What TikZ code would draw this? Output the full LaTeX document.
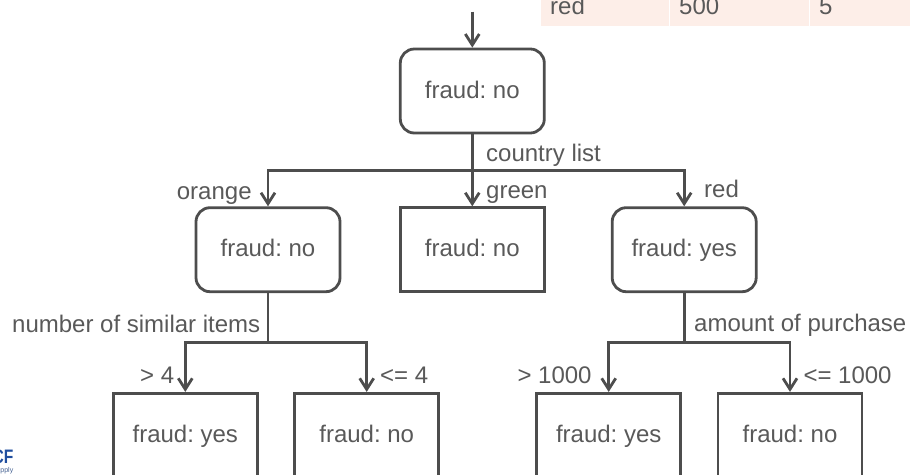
\documentclass[tikz,border=0pt]{standalone}
\usepackage{fontspec}
\setmainfont{Liberation Sans}
\usetikzlibrary{arrows.meta}
\definecolor{ink}{HTML}{4D4D4D}
\definecolor{txt}{HTML}{595959}
\definecolor{peach}{HTML}{FDEEE8}
\definecolor{logoblue}{HTML}{1F4E9E}
\tikzset{
  base/.style={draw=ink,line width=2.8pt,minimum width=144pt,minimum height=84pt,inner sep=0pt,
    text=txt,text height=14pt,text depth=0pt,font=\fontsize{24}{26}\selectfont\frenchspacing},
  sqbox/.style={base},
  rbox/.style={base,rounded corners=14pt},
  lbl/.style={text=txt,inner sep=0pt,anchor=base west,font=\fontsize{24}{26}\selectfont\frenchspacing},
  conn/.style={draw=ink,line width=2.8pt},
  arr/.style={conn,-{Straight Barb[length=11pt,width=14pt,line width=2.8pt]}}
}
\begin{document}
\begin{tikzpicture}[x=1pt,y=-1pt]
\useasboundingbox (0,0) rectangle (910,474);
\clip (0,0) rectangle (910,474);
% table strip
\fill[peach] (540.7,0) rectangle (668.6,25.7);
\fill[peach] (670,0) rectangle (808.6,25.7);
\fill[peach] (810,0) rectangle (910,25.7);
\node[lbl] (c1) at (550,14) {red};
\node[lbl] (c2) at (679,14) {500};
\node[lbl] (c3) at (819,14) {5};
% boxes
\node[rbox] (top) at (472.3,91) {fraud: no};
\node[rbox] (left) at (268,249.7) {fraud: no};
\node[sqbox] (mid) at (472.3,249.7) {fraud: no};
\node[rbox] (right) at (684.2,249.7) {fraud: yes};
\node[sqbox] (b1) at (185.3,435.3) {fraud: yes};
\node[sqbox] (b2) at (366.7,435.3) {fraud: no};
\node[sqbox] (b3) at (608.7,435.3) {fraud: yes};
\node[sqbox] (b4) at (790,435.3) {fraud: no};
% connectors
\coordinate (start) at (472.3,11.5);
\coordinate (j1) at (472.3,170.3);
\coordinate (j2) at (268,342.3);
\coordinate (j3) at (684.2,342.3);
\draw[arr] (start) -- (top.north);
\draw[conn] (top.south) -- (j1);
\draw[arr] (j1) -| (left.north);
\draw[arr] (j1) -- (mid.north);
\draw[arr] (j1) -| (right.north);
\draw[conn] (left.south) -- (j2);
\draw[arr] (j2) -| (b1.north);
\draw[arr] (j2) -| (b2.north);
\draw[conn] (right.south) -- (j3);
\draw[arr] (j3) -| (b3.north);
\draw[arr] (j3) -| (b4.north);
% labels
\node[lbl] (lcountry) at (486,161.7) {country list};
\node[lbl] (lorange) at (176.7,199) {orange};
\node[lbl] (lgreen) at (486,198.3) {green};
\node[lbl] (lred) at (704,197.7) {red};
\node[lbl] (lnum) at (12,332.7) {number of similar items};
\node[lbl] (lamt) at (694,331.7) {amount of purchase};
\node[lbl] (lg4) at (140,383) {> 4};
\node[lbl] (lle4) at (380,383) {<= 4};
\node[lbl] (lg1k) at (517.3,383) {> 1000};
\node[lbl] (lle1k) at (803.3,383) {<= 1000};
% logo fragment
\node[inner sep=0pt,anchor=base east,text=logoblue,xscale=0.8,font=\fontsize{19.5}{20}\selectfont\bfseries] (logo) at (13.5,463) {CF};
\node[inner sep=0pt,anchor=base east,text=logoblue!60!gray,font=\fontsize{7}{8}\selectfont] (logosub) at (13.5,472) {supply};
\end{tikzpicture}
\end{document}
